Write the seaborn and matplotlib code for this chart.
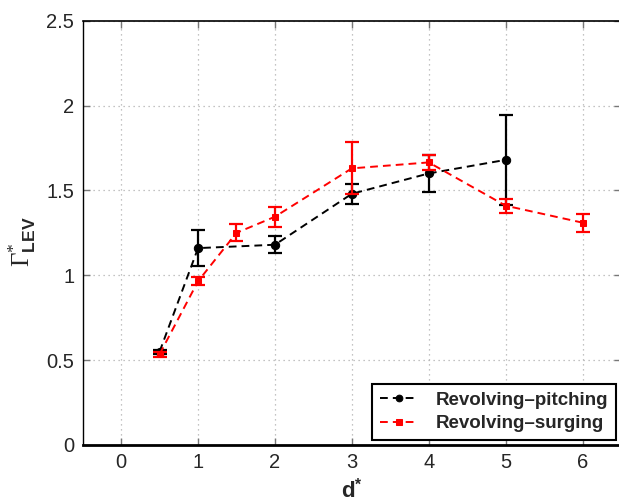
import numpy as np
import pandas as pd
import matplotlib
matplotlib.use('Agg')
import matplotlib.pyplot as plt
import seaborn as sns

# Data
d_pitching = [0.5, 1, 2, 3, 4, 5]
gamma_pitching = [0.55, 1.16, 1.18, 1.48, 1.60, 1.68]
err_pitching = [0.012, 0.105, 0.05, 0.06, 0.11, 0.265]

d_surging = [0.5, 1, 1.5, 2, 3, 4, 5, 6]
gamma_surging = [0.535, 0.965, 1.25, 1.345, 1.63, 1.665, 1.41, 1.31]
err_surging = [0.015, 0.025, 0.05, 0.06, 0.153, 0.043, 0.042, 0.053]

x_ticks = [0, 1, 2, 3, 4, 5, 6]
y_ticks = [0, 0.5, 1, 1.5, 2, 2.5]
y_tick_labels = ['0', '0.5', '1', '1.5', '2', '2.5']

df_pitching = pd.DataFrame({'d': d_pitching, 'gamma': gamma_pitching, 'err': err_pitching})
df_surging = pd.DataFrame({'d': d_surging, 'gamma': gamma_surging, 'err': err_surging})

sns.set_style('white')
plt.rcParams['font.family'] = ['Liberation Sans', 'DejaVu Sans']
plt.rcParams['mathtext.fontset'] = 'custom'
plt.rcParams['mathtext.rm'] = 'Liberation Serif'
plt.rcParams['mathtext.it'] = 'Liberation Serif:italic'
plt.rcParams['mathtext.bf'] = 'Liberation Sans:bold'

fig = plt.figure(figsize=(6.19, 5.01), dpi=100)
ax = fig.add_axes([82.7 / 619, 56 / 501, (621 - 82.7) / 619, (445 - 20.7) / 501])

dash = (0, (4, 2.6))

# error bars first, then the dashed lines with markers (surging on top)
ax.errorbar(df_pitching['d'], df_pitching['gamma'], yerr=df_pitching['err'], fmt='none',
            ecolor='black', elinewidth=1.6, capsize=5, capthick=1.6, zorder=3)
sns.lineplot(data=df_pitching, x='d', y='gamma', ax=ax, color='black', linestyle=dash,
             linewidth=1.4, marker='o', markersize=6, markeredgecolor='black',
             label='Revolving\u2013pitching', zorder=4)

ax.errorbar(df_surging['d'], df_surging['gamma'], yerr=df_surging['err'], fmt='none',
            ecolor='red', elinewidth=1.6, capsize=5, capthick=1.6, zorder=5)
sns.lineplot(data=df_surging, x='d', y='gamma', ax=ax, color='red', linestyle=dash,
             linewidth=1.4, marker='s', markersize=5, markeredgecolor='red',
             label='Revolving\u2013surging', zorder=6)

ax.set_xlim(-0.5, 6.5)
ax.set_ylim(0, 2.5)
ax.set_xticks(x_ticks)
ax.set_yticks(y_ticks)
ax.set_yticklabels(y_tick_labels)
ax.tick_params(axis='both', direction='in', length=5, width=1, color='#777777',
               labelsize=14.5, pad=6, top=True, right=True, bottom=True, left=True)
ax.tick_params(axis='y', pad=6)
ax.grid(True, linestyle=(0, (1, 3)), linewidth=0.9, color='#b0b0b0')

for side in ['left', 'top', 'bottom']:
    ax.spines[side].set_color('black')
ax.spines['left'].set_linewidth(1.0)
ax.spines['top'].set_linewidth(1.2)
ax.spines['bottom'].set_linewidth(2.0)
ax.spines['right'].set_visible(False)

ax.set_xlabel(r'$\mathbf{d}^{\mathbf{*}}$', fontsize=16, labelpad=4)
ax.set_ylabel(r'$\Gamma^{*}_{\mathbf{LEV}}$', fontsize=18, labelpad=6)
ax.yaxis.label.set_y(0.48)

leg = ax.legend(loc='lower right', bbox_to_anchor=(616 / 619, 61 / 501),
                bbox_transform=fig.transFigure, borderaxespad=0, fancybox=False,
                framealpha=1, edgecolor='black', prop={'weight': 'bold', 'size': 13.5},
                handlelength=2.0, handletextpad=1.0, labelspacing=0.35,
                borderpad=0.4, markerscale=0.8, numpoints=1)
leg.get_frame().set_linewidth(1.5)

fig.savefig('out.png', dpi=100)
